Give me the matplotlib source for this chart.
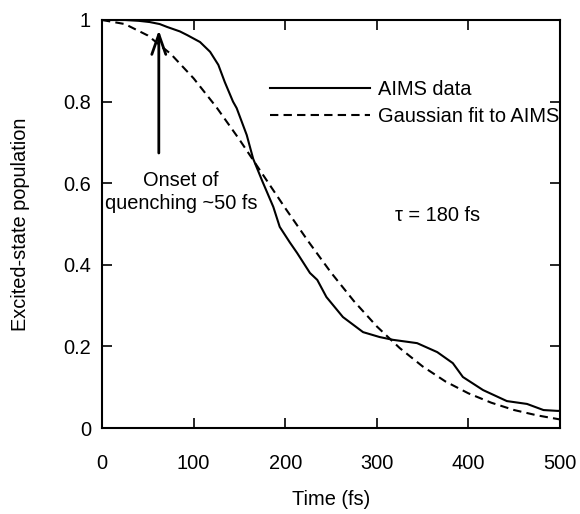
import numpy as np
import matplotlib
matplotlib.use('Agg')
import matplotlib.pyplot as plt

plt.rcParams['font.family'] = ['Liberation Sans', 'DejaVu Sans']

# AIMS excited-state population
aims_t = [0, 10, 25, 40, 52, 63, 71, 85, 93, 107, 118, 127, 134, 143, 147, 158,
          165, 175, 187, 194, 205, 213, 227, 235, 245, 263, 285, 303, 318, 344,
          366, 383, 394, 416, 442, 464, 482, 497, 500]
aims_y = [1.0, 1.0, 1.0, 0.998, 0.995, 0.99, 0.983, 0.972, 0.963, 0.946, 0.922,
          0.89, 0.848, 0.80, 0.784, 0.718, 0.66, 0.605, 0.542, 0.493, 0.455,
          0.429, 0.38, 0.363, 0.321, 0.272, 0.235, 0.223, 0.216, 0.208, 0.186,
          0.159, 0.125, 0.093, 0.066, 0.059, 0.044, 0.042, 0.042]

# gaussian fit curve
fit_t = [0, 25, 50, 75, 100, 125, 150, 175, 200, 225, 250, 275, 300, 325, 350,
         375, 400, 425, 450, 475, 500]
fit_y = [1.0, 0.99, 0.962, 0.917, 0.857, 0.786, 0.707, 0.623, 0.539, 0.458,
         0.381, 0.311, 0.249, 0.196, 0.151, 0.114, 0.085, 0.062, 0.044, 0.031,
         0.021]

fs = 14.4

fig = plt.figure(figsize=(5.8, 5.14), dpi=100)
ax = fig.add_axes([0.1759, 0.1673, 0.9655 - 0.1759, 0.9611 - 0.1673])

ax.plot(aims_t, aims_y, color='black', lw=1.5, label='AIMS data')
ax.plot(fit_t, fit_y, color='black', lw=1.5, dashes=(4, 2.5),
        label='Gaussian fit to AIMS')

ax.set_xlim(0, 500)
ax.set_ylim(0, 1)
ax.set_xticks([0, 100, 200, 300, 400, 500])
ax.set_yticks([0, 0.2, 0.4, 0.6, 0.8, 1])
ax.set_yticklabels(['0', '0.2', '0.4', '0.6', '0.8', '1'])
ax.tick_params(direction='in', length=7, width=1.2, top=True, right=True,
               labelsize=fs)
ax.tick_params(axis='x', pad=19)
ax.tick_params(axis='y', pad=8)
for s in ax.spines.values():
    s.set_linewidth(1.5)

ax.set_xlabel('Time (fs)', fontsize=fs, labelpad=12)
ax.set_ylabel('Excited-state population', fontsize=fs, labelpad=24)

leg = ax.legend(loc='upper left', bbox_to_anchor=(0.366, 0.853), frameon=False,
                fontsize=fs, handlelength=5, handletextpad=0.4,
                labelspacing=0.4, borderaxespad=0, borderpad=0)

ax.annotate('', xy=(62, 0.975), xytext=(62, 0.674),
            arrowprops=dict(arrowstyle='->,head_length=1.0,head_width=0.35',
                            color='black', lw=2, shrinkA=0, shrinkB=0),
            fontsize=fs)
ax.text(86, 0.578, 'Onset of\nquenching ~50 fs', fontsize=fs, ha='center',
        va='center', linespacing=1.25)
ax.text(366, 0.522, 'τ = 180 fs', fontsize=fs, ha='center', va='center')

fig.savefig('out.png', dpi=100)
